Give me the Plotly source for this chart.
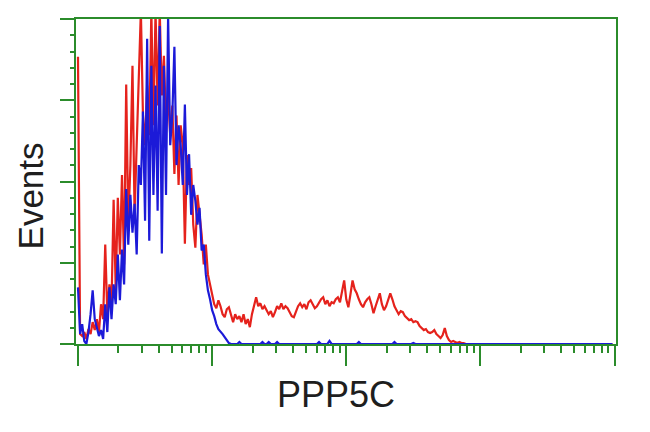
import math
import plotly.graph_objects as go

# Histogram counts per log channel (256 channels across 4 decades)
red_counts = [
    289, 10, 8, 12, 5, 15, 10, 22, 14, 25,
    12, 40, 25, 100, 30, 60, 40, 145, 55, 147,
    90, 170, 80, 261, 120, 180, 280, 130, 200, 260,
    335, 230, 200, 260, 210, 335, 220, 335, 240, 335,
    250, 290, 220, 250, 210, 240, 171, 230, 160, 220,
    200, 101, 190, 160, 177, 120, 97, 150, 130, 110,
    80, 100, 70, 60, 47, 40, 36, 44, 38, 30,
    27, 35, 37, 30, 22, 30, 25, 28, 22, 30,
    20, 25, 17, 30, 40, 47, 38, 41, 35, 38,
    34, 30, 33, 27, 32, 38, 35, 41, 35, 38,
    36, 32, 28, 27, 33, 38, 41, 37, 40, 35,
    42, 44, 40, 36, 38, 42, 45, 47, 40, 44,
    38, 42, 41, 45, 47, 42, 52, 64, 45, 37,
    50, 64, 55, 51, 45, 40, 37, 42, 45, 47,
    40, 31, 38, 45, 51, 40, 34, 38, 45, 51,
    45, 38, 34, 30, 33, 32, 28, 26, 24, 25,
    22, 23, 22, 18, 16, 14, 15, 12, 11, 12,
    14, 10, 8, 6, 9, 16, 8, 4, 2, 3,
    2, 1, 2, 1, 1, 0, 0, 0, 0, 0,
] + [0] * 66

blue_counts = [
    57, 10, 20, 3, 0, 12, 30, 54, 25, 15,
    8, 14, 5, 40, 12, 57, 25, 60, 40, 90,
    44, 95, 60, 156, 100, 150, 112, 141, 90, 180,
    160, 234, 124, 307, 104, 280, 150, 260, 134, 320,
    91, 280, 150, 330, 200, 230, 299, 180, 220, 200,
    160, 241, 150, 191, 130, 160, 144, 120, 137, 94,
    100, 70, 54, 45, 34, 28, 20, 15, 13, 10,
    7, 4, 1, 0, 0, 0, 0, 2, 0, 0,
    0, 0, 0, 0, 0, 0, 0, 0, 2, 0,
    0, 2, 0, 0, 0, 2, 0, 0, 0, 0,
    0, 0, 0, 0, 0, 0, 0, 0, 0, 0,
    0, 0, 0, 0, 0, 2, 0, 0, 0, 0,
    3, 0, 0, 0, 0, 0, 0, 0, 0, 0,
    0, 0, 0, 0, 2, 0, 0, 0, 0, 0,
    0, 0, 0, 0, 0, 0, 0, 0, 0, 0,
    0, 2, 0, 0, 0, 0, 0, 0, 0, 0,
    1, 0, 0, 0, 0, 0, 0, 0, 0, 0,
] + [0] * 86

channels_per_decade = 64
n_decades = 4
y_max = 327

channels = list(range(len(red_counts)))

green = "#2b8c2b"

fig = go.Figure()
fig.add_trace(go.Scatter(x=channels, y=red_counts, mode="lines",
                         line=dict(color="#e5221c", width=2.2), showlegend=False))
fig.add_trace(go.Scatter(x=channels[:len(blue_counts)], y=blue_counts, mode="lines",
                         line=dict(color="#1c1ad8", width=2.2), showlegend=False))

major_x = [channels_per_decade * d for d in range(n_decades + 1)]
minor_x = [channels_per_decade * (d + math.log10(k)) for d in range(n_decades) for k in range(2, 10)]
major_y = [y_max * i / 4 for i in range(5)]
minor_y = [y_max * i / 20 for i in range(21) if i % 5 != 0]

fig.update_xaxes(range=[-0.95, 256.7], showgrid=False, zeroline=False,
                 showline=True, linecolor=green, linewidth=2, mirror=True,
                 ticks="outside", tickmode="array", tickvals=major_x, ticklen=20,
                 tickwidth=2, tickcolor=green, showticklabels=False,
                 minor=dict(tickmode="array", tickvals=minor_x, ticks="outside",
                            ticklen=7, tickwidth=2, tickcolor=green, showgrid=False))
fig.update_yaxes(range=[0, y_max], showgrid=False, zeroline=False,
                 showline=True, linecolor=green, linewidth=2, mirror=True,
                 ticks="outside", tickmode="array", tickvals=major_y, ticklen=14,
                 tickwidth=2, tickcolor=green, showticklabels=False,
                 minor=dict(tickmode="array", tickvals=minor_y, ticks="outside",
                            ticklen=4, tickwidth=2, tickcolor=green, showgrid=False))

fig.update_layout(
    width=642, height=424,
    margin=dict(l=68, r=34, t=9, b=88),
    plot_bgcolor="white", paper_bgcolor="white",
    font=dict(family="Liberation Sans, Arial, sans-serif", color="#1e1e1e"),
    annotations=[
        dict(text="PPP5C", xref="paper", yref="paper", x=0.482, y=-0.155,
             xanchor="center", yanchor="middle", showarrow=False,
             font=dict(size=36, color="#1e1e1e")),
        dict(text="Events", xref="paper", yref="paper", x=-0.084, y=0.456,
             xanchor="center", yanchor="middle", textangle=-90, showarrow=False,
             borderpad=0, font=dict(size=35, color="#1e1e1e")),
    ],
)

fig.write_html("out.html")
